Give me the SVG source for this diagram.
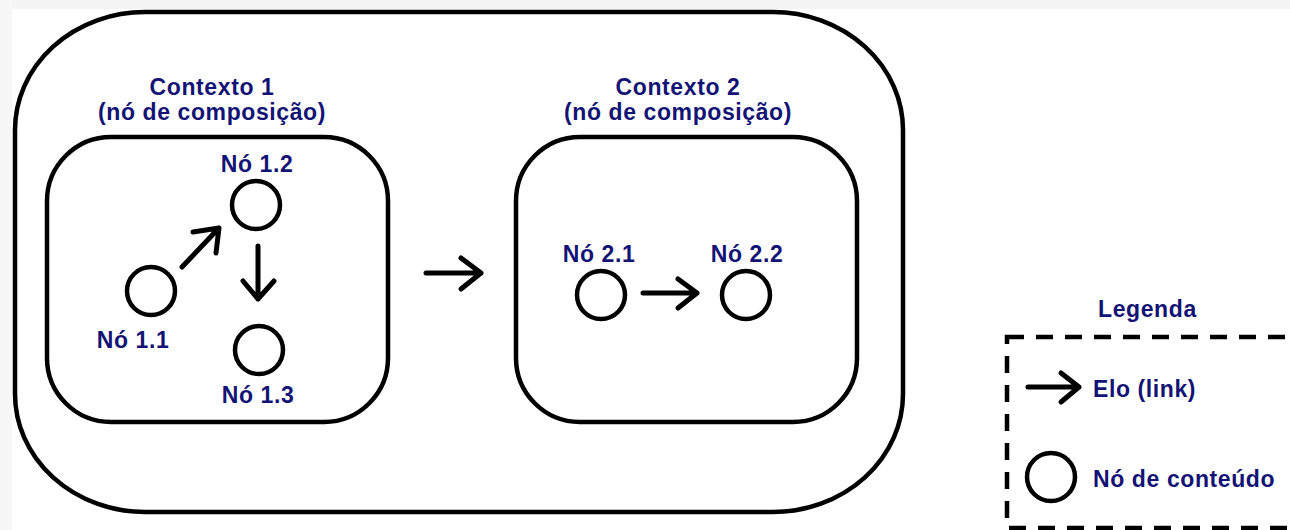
<svg xmlns="http://www.w3.org/2000/svg" width="1290" height="530" viewBox="0 0 1290 530">
<style>
.bx{fill:none;stroke:#000;stroke-width:4.5}
.nd{fill:#fff;stroke:#000;stroke-width:4.5}
.ln{fill:none;stroke:#000;stroke-width:5;stroke-linecap:round;stroke-linejoin:round}
.t{font-family:"Liberation Sans",Arial,sans-serif;font-weight:bold;font-size:23px;fill:#131375;letter-spacing:0.6px}
.m{text-anchor:middle}
</style>
<rect x="0" y="0" width="1290" height="530" fill="#fff"/>
<rect x="0" y="0" width="1290" height="9" fill="#f4f4f4"/>
<rect x="0" y="0" width="12" height="530" fill="#f7f7f7"/>
<g id="universo">
<rect class="bx" x="15" y="12" width="888" height="500" rx="130" ry="118"/>
</g>
<g id="contexto1">
<rect class="bx" x="47" y="137" width="341" height="285" rx="64" ry="64"/>
<text class="t m" x="212" y="95">Contexto 1</text>
<text class="t m" x="212" y="120">(nó de composição)</text>
</g>
<g id="contexto2">
<rect class="bx" x="516" y="137" width="341" height="285" rx="64" ry="64"/>
<text class="t m" x="678" y="95">Contexto 2</text>
<text class="t m" x="678" y="120">(nó de composição)</text>
</g>
<g id="no11">
<circle class="nd" cx="151" cy="291" r="24"/>
<text class="t m" x="133" y="348">Nó 1.1</text>
</g>
<g id="no12">
<circle class="nd" cx="256" cy="205" r="24"/>
<text class="t m" x="257" y="172">Nó 1.2</text>
</g>
<g id="no13">
<circle class="nd" cx="259" cy="350" r="24"/>
<text class="t m" x="258" y="403">Nó 1.3</text>
</g>
<g id="no21">
<circle class="nd" cx="601" cy="295" r="24"/>
<text class="t m" x="599" y="262">Nó 2.1</text>
</g>
<g id="no22">
<circle class="nd" cx="746" cy="295" r="24"/>
<text class="t m" x="747" y="262">Nó 2.2</text>
</g>
<g id="connectors">
<path class="ln" d="M182 267 L219 228 M193 232 L219 228 L216 253"/>
<path class="ln" d="M258 246 L258 299 M243 281 L258 299 L274 281"/>
<path class="ln" d="M426 273 L481 273 M461 258 L481 273 L461 289"/>
<path class="ln" d="M643 293 L697 293 M678 279 L697 293 L678 308"/>
</g>
<g id="legenda">
<text class="t" x="1098" y="317">Legenda</text>
<rect x="1007" y="337" width="320" height="191" fill="none" stroke="#000" stroke-width="4.5" stroke-dasharray="17 12"/>
<path class="ln" d="M1028 387 L1079 387 M1061 373 L1079 387 L1061 402"/>
<text class="t" x="1093" y="397">Elo (link)</text>
<circle class="nd" cx="1051" cy="477" r="24"/>
<text class="t" x="1093" y="487">Nó de conteúdo</text>
</g>
</svg>
